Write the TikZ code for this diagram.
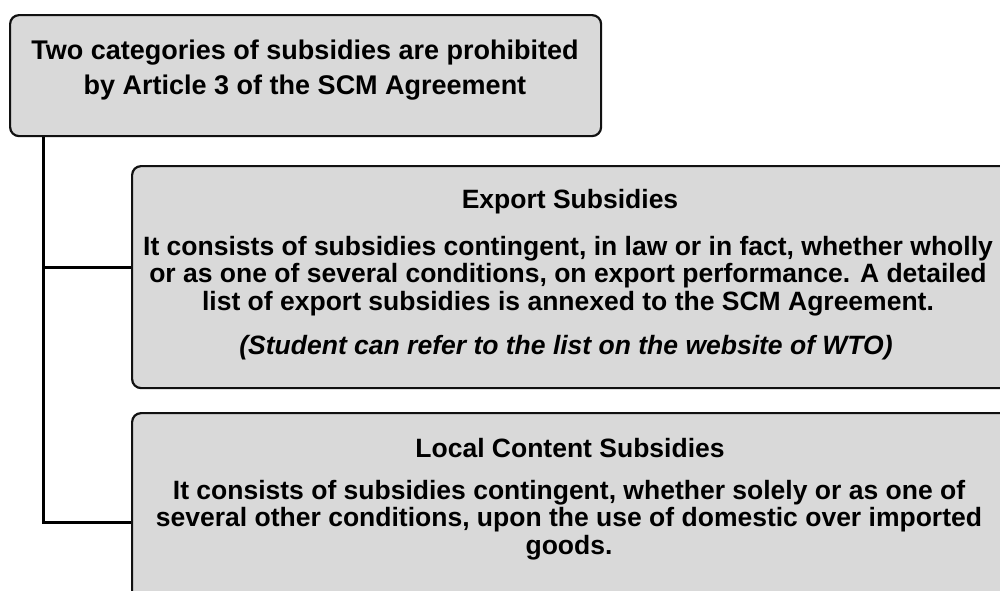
\documentclass[tikz,border=0pt]{standalone}
\usepackage{fontspec}
\setmainfont{Liberation Sans}
\definecolor{boxgray}{HTML}{D9D9D9}
\definecolor{edge}{HTML}{111111}
\begin{document}
\begin{tikzpicture}[x=1pt,y=-1pt,
  box/.style={draw=edge, line width=2.2pt, rounded corners=9pt, fill=boxgray, anchor=north west, inner sep=0pt},
  txt/.style={font=\bfseries\fontsize{26.5}{27.3}\selectfont, align=center, inner sep=0pt},
  link/.style={draw=black, line width=3pt}]
\useasboundingbox (0,0) rectangle (1000,590);
\clip (0,0) rectangle (1000,590);
\coordinate (sp) at (43,0);
\coordinate (e1) at (0,267);
\coordinate (l1) at (0,522);
\node[box, minimum width=591pt, minimum height=121pt] (top) at (9,14) {};
\node[box, minimum width=890pt, minimum height=222pt] (exp) at (131,165) {};
\node[box, minimum width=890pt, minimum height=220pt] (loc) at (131,412) {};
\draw[link] (top.south -| sp) |- (exp.west |- e1);
\draw[link] (top.south -| sp) |- (loc.west |- l1);
\node[txt, font=\bfseries\fontsize{27}{35}\selectfont] (toptxt) at (305,70) {Two categories of subsidies are prohibited\\by Article 3 of the SCM Agreement};
\node[txt] (exph) at (570,202) {Export Subsidies};
\node[txt] (expb) at (568,276) {It consists of subsidies contingent, in law or in fact, whether wholly\\or as one of several conditions, on export performance. A detailed\\list of export subsidies is annexed to the SCM Agreement.};
\node[txt, font=\bfseries\itshape\fontsize{26.5}{27.3}\selectfont] (expn) at (566,348) {(Student can refer to the list on the website of WTO)};
\node[txt] (loch) at (570,448) {Local Content Subsidies};
\node[txt] (locb) at (569,520) {It consists of subsidies contingent, whether solely or as one of\\several other conditions, upon the use of domestic over imported\\goods.};
\end{tikzpicture}
\end{document}
